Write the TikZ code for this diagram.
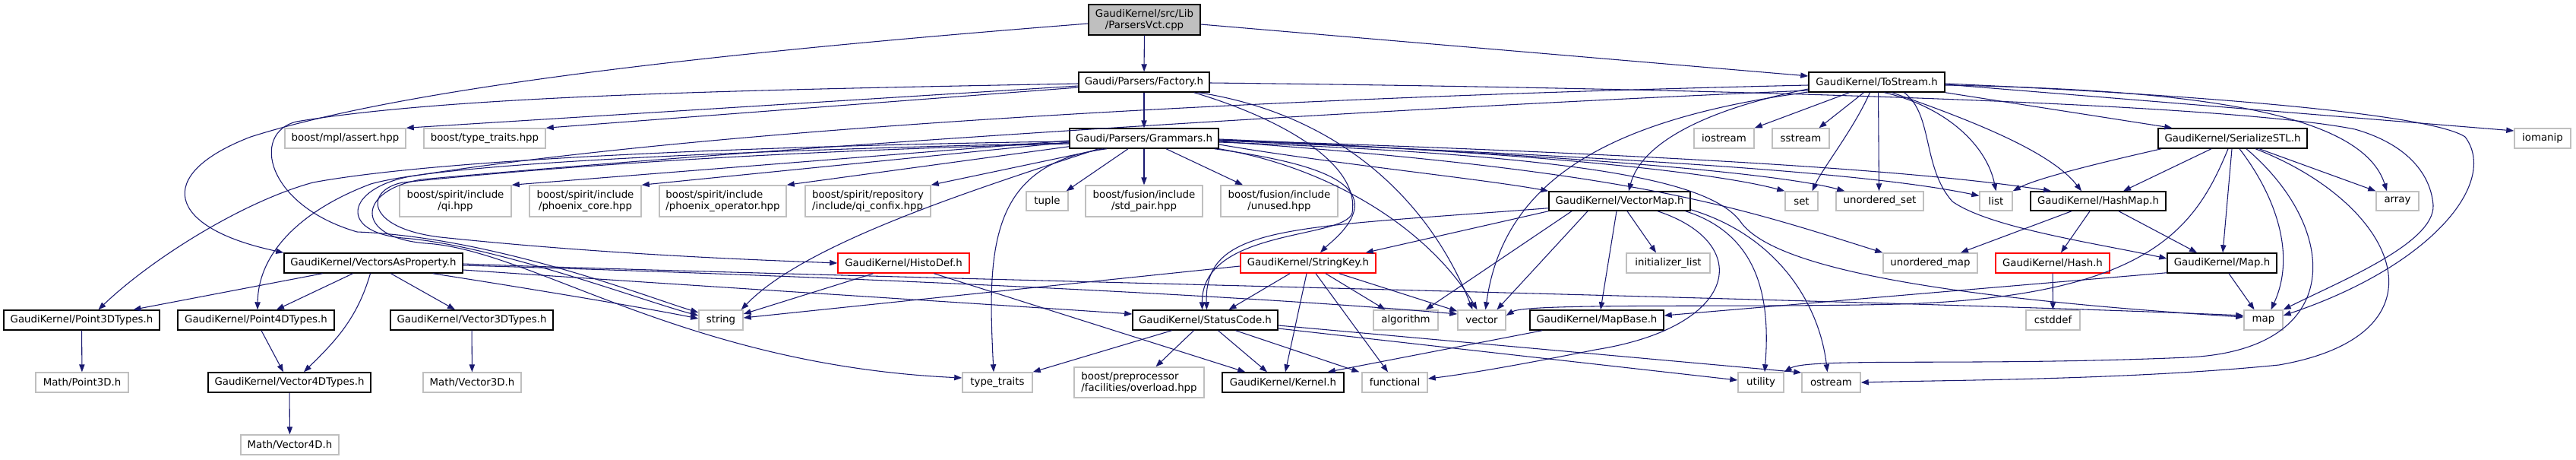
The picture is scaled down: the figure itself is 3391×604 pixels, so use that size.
\documentclass[tikz,border=0pt]{standalone}
\usepackage{fontspec}
\setmainfont{DejaVu Sans}
\usetikzlibrary{arrows.meta,calc}
\definecolor{edgec}{HTML}{191970}
\definecolor{greyl}{HTML}{BFBFBF}
\tikzset{
 gbase/.style={draw, fill=white, line width=1.1pt, inner sep=0pt, font=\fontsize{10pt}{11.5pt}\selectfont, align=center, text=black},
 gdoc/.style={gbase, draw=black},
 gext/.style={gbase, draw=greyl},
 gtrunc/.style={gbase, draw=red},
 groot/.style={gbase, draw=black, fill=greyl},
 gedge/.style={draw=edgec, line width=0.8pt, -{Triangle[length=7.5pt,width=5.5pt]}},
}
\newcommand{\dnode}[7]{\node[#1, minimum width={(#4-#3)*0.75pt}, minimum height={(#6-#5)*0.75pt}] (#2) at ({(#3+#4)/2},{(#5+#6)/2}) {#7};}
\begin{document}
\begin{tikzpicture}[x=0.75pt,y=-0.75pt]
\useasboundingbox (0,0) rectangle (3391,604);
% nodes
\dnode{groot}{pv}{1433}{1580}{6}{46}{GaudiKernel/src/Lib\\/ParsersVct.cpp}
\dnode{gdoc}{fac}{1420}{1592}{95}{121}{Gaudi/Parsers/Factory.h}
\dnode{gdoc}{tos}{2381}{2560}{95}{121}{GaudiKernel/ToStream.h}
\dnode{gext}{mpl}{375}{534}{169}{195}{boost/mpl/assert.hpp}
\dnode{gext}{btt}{558}{718}{169}{195}{boost/type\_traits.hpp}
\dnode{gdoc}{gra}{1408}{1604}{169}{195}{Gaudi/Parsers/Grammars.h}
\dnode{gext}{ios}{2230}{2309}{169}{195}{iostream}
\dnode{gext}{sst}{2333}{2408}{169}{195}{sstream}
\dnode{gdoc}{ser}{2841}{3037}{169}{195}{GaudiKernel/SerializeSTL.h}
\dnode{gext}{iom}{3310}{3384}{169}{195}{iomanip}
\dnode{gext}{qi}{526}{673}{244}{285}{boost/spirit/include\\/qi.hpp}
\dnode{gext}{phc}{697}{844}{244}{285}{boost/spirit/include\\/phoenix\_core.hpp}
\dnode{gext,align=left}{pho}{868}{1035}{244}{285}{boost/spirit/include\\/phoenix\_operator.hpp}
\dnode{gext,align=left}{qic}{1060}{1225}{244}{285}{boost/spirit/repository\\/include/qi\_confix.hpp}
\dnode{gext}{tup}{1351}{1406}{252}{277}{tuple}
\dnode{gext}{stp}{1429}{1583}{244}{285}{boost/fusion/include\\/std\_pair.hpp}
\dnode{gext}{unu}{1607}{1761}{244}{285}{boost/fusion/include\\/unused.hpp}
\dnode{gdoc}{vm}{2039}{2225}{252}{277}{GaudiKernel/VectorMap.h}
\dnode{gext}{set}{2350}{2393}{252}{277}{set}
\dnode{gext}{uset}{2417}{2532}{252}{277}{unordered\_set}
\dnode{gext}{list}{2606}{2649}{252}{277}{list}
\dnode{gdoc}{hm}{2673}{2851}{252}{277}{GaudiKernel/HashMap.h}
\dnode{gext}{arr}{3128}{3184}{252}{277}{array}
\dnode{gdoc}{vap}{374}{609}{333}{359}{GaudiKernel/VectorsAsProperty.h}
\dnode{gtrunc}{hd}{1103}{1276}{333}{359}{GaudiKernel/HistoDef.h}
\dnode{gtrunc}{sk}{1633}{1811}{333}{359}{GaudiKernel/StringKey.h}
\dnode{gext}{il}{2141}{2251}{333}{359}{initializer\_list}
\dnode{gext}{umap}{2479}{2603}{333}{359}{unordered\_map}
\dnode{gtrunc}{hash}{2627}{2777}{333}{359}{GaudiKernel/Hash.h}
\dnode{gdoc}{maph}{2853}{2997}{333}{359}{GaudiKernel/Map.h}
\dnode{gdoc}{p3}{5}{210}{408}{434}{GaudiKernel/Point3DTypes.h}
\dnode{gdoc}{p4}{234}{440}{408}{434}{GaudiKernel/Point4DTypes.h}
\dnode{gdoc}{v3}{514}{728}{408}{434}{GaudiKernel/Vector3DTypes.h}
\dnode{gext}{str}{920}{978}{408}{434}{string}
\dnode{gdoc}{sc}{1491}{1682}{408}{434}{GaudiKernel/StatusCode.h}
\dnode{gext}{alg}{1808}{1893}{408}{434}{algorithm}
\dnode{gext}{vec}{1919}{1982}{408}{434}{vector}
\dnode{gdoc}{mb}{2014}{2190}{408}{434}{GaudiKernel/MapBase.h}
\dnode{gext}{cst}{2667}{2738}{408}{434}{cstddef}
\dnode{gext}{map}{2954}{3005}{408}{434}{map}
\dnode{gext}{mp3}{47}{169}{490}{516}{Math/Point3D.h}
\dnode{gdoc}{v4}{274}{488}{490}{516}{GaudiKernel/Vector4DTypes.h}
\dnode{gext}{mv3}{557}{686}{490}{516}{Math/Vector3D.h}
\dnode{gext}{tt}{1267}{1359}{490}{516}{type\_traits}
\dnode{gext,align=left}{ovl}{1414}{1585}{483}{523}{boost/preprocessor\\/facilities/overload.hpp}
\dnode{gdoc}{ker}{1609}{1769}{490}{516}{GaudiKernel/Kernel.h}
\dnode{gext}{fun}{1793}{1879}{490}{516}{functional}
\dnode{gext}{uti}{2288}{2348}{490}{516}{utility}
\dnode{gext}{ost}{2372}{2449}{490}{516}{ostream}
\dnode{gext}{mv4}{317}{446}{572}{598}{Math/Vector4D.h}
% ParsersVct
\draw[gedge] (pv) -- (fac);
\draw[gedge] ($(pv.east)+(0,6)$) -- ($(tos.west)+(0,-8)$);
\draw[gedge] ($(pv.west)+(0,5)$) .. controls (1000,65) and (550,110) .. (330,180) .. controls (200,230) and (220,300) .. (vap.north west);
% Factory
\draw[gedge] (fac) -- (gra);
\draw[gedge] ($(fac.west)+(0,5)$) -- (mpl.north east);
\draw[gedge] ($(fac.west)+(0,7)$) -- (btt.north east);
\draw[gedge] ($(fac.west)+(0,2)$) .. controls (1000,118) and (600,125) .. (390,160) .. controls (330,175) and (350,270) .. (470,305) .. controls (650,312) and (850,390) .. ($(str.west)+(0,-10)$);
\draw[gedge] ($(fac.east)+(0,1)$) .. controls (2400,118) and (2950,140) .. (3100,170) .. controls (3170,190) and (3200,230) .. (3203,270) .. controls (3205,320) and (3080,370) .. (map.north east);
\draw[gedge] ($(fac.south east)+(-15,0)$) .. controls (1760,150) and (1880,260) .. ($(vec.north)+(-12,0)$);
\draw[gedge] ($(fac.south east)+(-21,0)$) .. controls (1700,160) and (1790,220) .. (1780,280) .. controls (1770,315) and (1582,300) .. ($(sc.north)+(-4,0)$);
% Grammars left / down
\draw[gedge] ($(gra.west)+(0,3)$) -- (qi.north east);
\draw[gedge] ($(gra.west)+(0,5)$) -- (phc.north east);
\draw[gedge] ($(gra.south west)+(0,-3)$) -- (pho.north east);
\draw[gedge] ($(gra.south)+(-54,0)$) -- (qic.north east);
\draw[gedge] ($(gra.south)+(-21,0)$) -- ($(tup.north east)+(-3,0)$);
\draw[gedge] (gra) -- (stp);
\draw[gedge] ($(gra.south)+(29,0)$) -- ($(unu.north)+(-48,0)$);
\draw[gedge] ($(gra.south)+(-49,0)$) .. controls (1300,215) and (1300,330) .. ($(tt.north)+(-5,0)$);
\draw[gedge] ($(gra.south)+(-60,0)$) .. controls (1280,250) and (1060,320) .. ($(str.north east)+(-3,0)$);
\draw[gedge] ($(gra.west)+(0,4)$) .. controls (1100,190) and (600,205) .. (412,240) .. controls (320,265) and (200,340) .. ($(p3.north)+(22,0)$);
\draw[gedge] ($(gra.west)+(0,6)$) .. controls (1100,195) and (600,210) .. (488,242) .. controls (400,275) and (340,330) .. ($(p4.north)+(2,0)$);
\draw[gedge] ($(gra.west)+(0,7)$) .. controls (1100,197) and (800,212) .. (530,240) .. controls (480,250) and (480,300) .. (580,312) .. controls (800,335) and (1000,342) .. (hd.west);
% Grammars right
\draw[gedge] ($(gra.east)+(0,8)$) .. controls (1750,215) and (1950,235) .. (vm.north west);
\draw[gedge] ($(gra.east)+(0,1)$) .. controls (2000,200) and (2250,225) .. (set.north west);
\draw[gedge] ($(gra.east)+(0,2)$) .. controls (2100,205) and (2350,230) .. ($(uset.north west)+(12,0)$);
\draw[gedge] ($(gra.east)+(0,4)$) .. controls (2150,225) and (2280,270) .. (umap.north west);
\draw[gedge] ($(gra.east)+(0,3)$) .. controls (2100,205) and (2450,225) .. ($(list.west)+(0,-7)$);
\draw[gedge] ($(gra.east)+(0,2)$) .. controls (2100,200) and (2500,220) .. ($(hm.north)+(-62,0)$);
\draw[gedge] ($(gra.east)+(0,5)$) .. controls (2100,205) and (2250,240) .. (2290,290) .. controls (2320,335) and (2450,385) .. ($(map.west)+(0,-4)$);
\draw[gedge] (gra.south east) .. controls (1750,220) and (1880,300) .. ($(vec.north)+(-6,0)$);
\draw[gedge] ($(gra.south east)+(-6,0)$) .. controls (1700,210) and (1790,230) .. (1783,275) .. controls (1778,300) and (1750,320) .. ($(sk.north)+(16,0)$);
% ToStream
\draw[gedge] ($(tos.south)+(-36,0)$) -- (ios.north east);
\draw[gedge] ($(tos.south)+(-17,0)$) -- ($(sst.north)+(24,0)$);
\draw[gedge] ($(tos.south)+(-9,0)$) .. controls (2440,170) and (2400,220) .. ($(set.north)+(14,0)$);
\draw[gedge] ($(tos.south)+(2,0)$) -- ($(uset.north)+(-1,0)$);
\draw[gedge] ($(tos.south)+(10,0)$) .. controls (2560,140) and (2615,190) .. (list.north);
\draw[gedge] ($(tos.south)+(20,0)$) .. controls (2600,160) and (2700,200) .. ($(hm.north)+(-22,0)$);
\draw[gedge] ($(tos.south)+(36,0)$) .. controls (2545,150) and (2530,220) .. (2570,265) .. controls (2620,300) and (2760,320) .. ($(maph.west)+(0,-6)$);
\draw[gedge] (tos.south east) -- ($(ser.north west)+(19,0)$);
\draw[gedge] ($(tos.east)+(0,4)$) .. controls (2900,118) and (3110,150) .. ($(arr.north)+(-14,0)$);
\draw[gedge] ($(tos.east)+(0,3)$) -- ($(iom.west)+(0,-10)$);
\draw[gedge] ($(tos.east)+(0,2)$) .. controls (2900,125) and (3200,150) .. (3245,180) .. controls (3290,240) and (3200,350) .. ($(map.east)+(0,-6)$);
\draw[gedge] ($(tos.west)+(0,9)$) .. controls (2240,145) and (2160,190) .. ($(vm.north)+(12,0)$);
\draw[gedge] ($(tos.west)+(0,13)$) .. controls (2130,155) and (1980,230) .. ($(vec.north)+(5,0)$);
\draw[gedge] ($(tos.west)+(0,4)$) .. controls (1800,125) and (1000,160) .. (540,232) .. controls (455,248) and (445,305) .. (530,313) .. controls (650,322) and (850,397) .. ($(str.west)+(0,-6)$);
\draw[gedge] ($(tos.west)+(0,11)$) .. controls (1700,148) and (950,200) .. (555,236) .. controls (470,250) and (465,312) .. (560,320) .. controls (700,328) and (900,480) .. ($(tt.west)+(0,-6)$);
% SerializeSTL
\draw[gedge] ($(ser.south west)+(5,0)$) .. controls (2760,215) and (2680,235) .. (list.north east);
\draw[gedge] ($(ser.south)+(-28,0)$) -- ($(hm.north)+(33,0)$);
\draw[gedge] ($(ser.south)+(-1,0)$) -- ($(maph.north)+(1,0)$);
\draw[gedge] ($(ser.south)+(35,0)$) -- (arr.north west);
\draw[gedge] ($(ser.south)+(9,0)$) .. controls (2990,250) and (3025,330) .. ($(map.north)+(10,0)$);
\draw[gedge] ($(ser.south)+(-6,0)$) .. controls (2890,300) and (2830,390) .. (2500,400) .. controls (2300,405) and (2010,398) .. ($(vec.east)+(0,-6)$);
\draw[gedge] ($(ser.south)+(18,0)$) .. controls (3080,300) and (3090,460) .. (2880,470) .. controls (2600,482) and (2380,470) .. (uti.north east);
\draw[gedge] ($(ser.south)+(30,0)$) .. controls (3160,270) and (3230,440) .. (3000,480) .. controls (2800,500) and (2550,500) .. (ost.east);
% VectorMap
\draw[gedge] ($(vm.south west)+(0,-4)$) .. controls (1700,300) and (1585,295) .. ($(sc.north)+(2,0)$);
\draw[gedge] (vm.south west) -- ($(sk.north east)+(-14,0)$);
\draw[gedge] ($(vm.south)+(-63,0)$) -- ($(alg.north east)+(-17,0)$);
\draw[gedge] ($(vm.south)+(-42,0)$) -- ($(vec.north)+(20,0)$);
\draw[gedge] ($(vm.south)+(-4,0)$) -- ($(mb.north)+(5,0)$);
\draw[gedge] ($(vm.south)+(10,0)$) -- ($(il.north)+(-16,0)$);
\draw[gedge] ($(vm.south)+(50,0)$) .. controls (2310,320) and (2290,430) .. (2100,460) .. controls (2000,480) and (1930,492) .. ($(fun.east)+(0,-5)$);
\draw[gedge] ($(vm.south east)+(-7,0)$) .. controls (2320,310) and (2330,400) .. ($(uti.north)+(5,0)$);
\draw[gedge] ($(vm.south east)+(0,-2)$) .. controls (2340,310) and (2395,400) .. ($(ost.north)+(-5,0)$);
% HashMap, Hash, Map, MapBase
\draw[gedge] ($(hm.south)+(-35,0)$) -- ($(umap.north)+(40,0)$);
\draw[gedge] ($(hm.south)+(-11,0)$) -- ($(hash.north)+(11,0)$);
\draw[gedge] ($(hm.south)+(27,0)$) -- ($(maph.north)+(-33,0)$);
\draw[gedge] (hash) -- (cst);
\draw[gedge] ($(maph.south)+(9,0)$) -- ($(map.north)+(-12,0)$);
\draw[gedge] ($(maph.south west)+(0,-1)$) -- ($(mb.east)+(0,-6)$);
\draw[gedge] ($(mb.south west)+(17,0)$) -- ($(ker.north east)+(-22,0)$);
% StringKey
\draw[gedge] ($(sk.west)+(0,4)$) -- ($(str.east)+(0,-3)$);
\draw[gedge] ($(sk.south)+(-24,0)$) -- ($(sc.north)+(31,0)$);
\draw[gedge] ($(sk.south)+(-2,0)$) -- ($(ker.north)+(3,0)$);
\draw[gedge] ($(sk.south)+(10,0)$) -- ($(fun.north)+(-9,0)$);
\draw[gedge] ($(sk.south)+(23,0)$) -- ($(alg.north)+(-27,0)$);
\draw[gedge] ($(sk.south east)+(-49,0)$) -- ($(vec.north west)+(0,2)$);
% HistoDef
\draw[gedge] ($(hd.south)+(-40,0)$) -- ($(str.east)+(0,-8)$);
\draw[gedge] ($(hd.south)+(40,0)$) -- ($(ker.north west)+(31,0)$);
% StatusCode
\draw[gedge] ($(sc.south)+(-44,0)$) -- (tt.north east);
\draw[gedge] ($(sc.south)+(-15,0)$) -- ($(ovl.north)+(22,0)$);
\draw[gedge] ($(sc.south)+(17,0)$) -- ($(ker.north)+(-21,0)$);
\draw[gedge] ($(sc.south)+(40,0)$) -- ($(fun.north west)+(-3,0)$);
\draw[gedge] ($(sc.east)+(0,7)$) -- ($(ost.west)+(0,-13)$);
\draw[gedge] ($(sc.east)+(0,11)$) -- ($(uti.west)+(0,-3)$);
% VectorsAsProperty
\draw[gedge] ($(vap.south)+(-67,0)$) -- ($(p3.north)+(68,0)$);
\draw[gedge] ($(vap.south)+(-27,0)$) -- ($(p4.north)+(27,0)$);
\draw[gedge] ($(vap.south)+(-4,0)$) .. controls (470,420) and (440,450) .. ($(v4.north)+(19,0)$);
\draw[gedge] ($(vap.south)+(23,0)$) -- ($(v3.north)+(-22,0)$);
\draw[gedge] ($(vap.east)+(0,9)$) .. controls (900,375) and (1300,400) .. ($(sc.west)+(0,-8)$);
\draw[gedge] ($(vap.east)+(0,3)$) .. controls (1000,360) and (1600,385) .. ($(vec.west)+(0,-8)$);
\draw[gedge] ($(vap.east)+(0,1)$) .. controls (1000,362) and (2500,395) .. ($(map.west)+(0,-6)$);
\draw[gedge] ($(vap.south east)+(-40,0)$) .. controls (700,380) and (850,405) .. ($(str.west)+(0,-2)$);
% types
\draw[gedge] (p3) -- (mp3);
\draw[gedge] ($(p4.south)+(7,0)$) -- ($(v4.north)+(-8,0)$);
\draw[gedge] (v3) -- (mv3);
\draw[gedge] (v4) -- (mv4);
\end{tikzpicture}
\end{document}
